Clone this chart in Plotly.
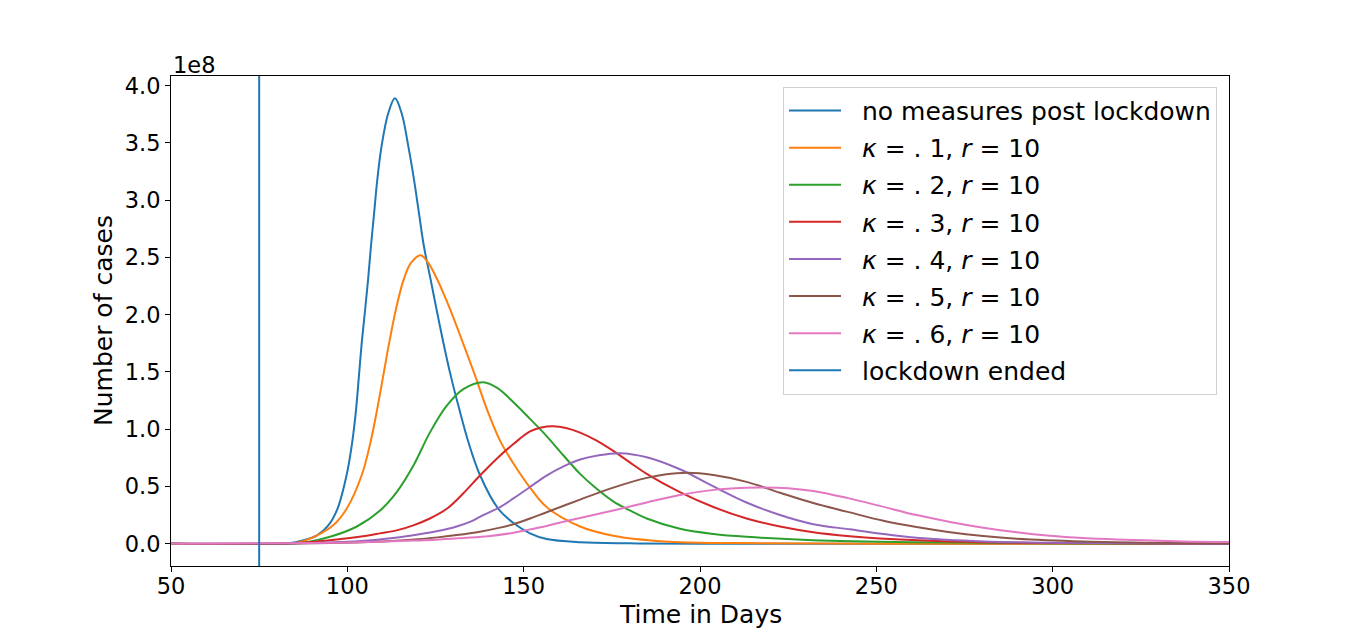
#!/usr/bin/env python3

import plotly.graph_objects as go


# ----------------------------------------
# Data (cases in units of 1e8)
# ----------------------------------------

lockdown_day = 75

no_measures_days = [50, 80, 85, 87.5, 91.3, 94.6, 97.2, 99.8, 101.4, 102.5, 103.3, 104.1,
                    105.0, 105.9, 106.7, 107.6, 108.5, 109.7, 111.6, 113.5, 115.4, 117.3,
                    118.9, 120.3, 121.7, 123.6, 125.4, 127.2, 129.3, 131.7, 134.3, 137.6,
                    142.8, 147.1, 151.8, 156.5, 166, 180, 200, 250, 350]
no_measures_cases = [0, 0, 0.01, 0.03, 0.07, 0.16, 0.305, 0.60, 0.89, 1.18, 1.47, 1.76,
                     2.03, 2.31, 2.60, 2.89, 3.18, 3.47, 3.76, 3.89, 3.76, 3.47,
                     3.18, 2.89, 2.60, 2.31, 2.03, 1.76, 1.47, 1.18, 0.89, 0.60,
                     0.305, 0.18, 0.09, 0.04, 0.012, 0.003, 0, 0, 0]

k1_days = [50, 80, 86, 91.3, 96.0, 99.8, 104.1, 106.6, 108.5, 110.2, 111.9, 113.8, 115.9,
           118.0, 120.8, 123.0, 125.3, 127.2, 129.1, 132.7, 136.2, 139.5, 143.3, 147.1,
           151.8, 156.5, 166, 175.4, 190, 210, 250, 350]
k1_cases = [0, 0, 0.01, 0.07, 0.16, 0.305, 0.60, 0.89, 1.18, 1.47, 1.76, 2.05, 2.30,
            2.45, 2.52, 2.45, 2.32, 2.19, 2.05, 1.76, 1.47, 1.18, 0.90, 0.70,
            0.49, 0.32, 0.15, 0.07, 0.02, 0.005, 0, 0]

k2_days = [50, 82, 88, 95.1, 102.7, 109.3, 114.0, 118.7, 123.4, 128.2, 132.9, 138.6, 142.5,
           147.1, 151.8, 156.5, 161.3, 166.0, 170.7, 175.4, 180.1, 184.9, 194.3, 203.8,
           213.2, 232, 260, 300, 350]
k2_cases = [0, 0, 0.01, 0.06, 0.15, 0.29, 0.45, 0.68, 0.97, 1.205, 1.35, 1.41, 1.36,
            1.235, 1.09, 0.94, 0.77, 0.61, 0.48, 0.37, 0.29, 0.22, 0.13, 0.085,
            0.06, 0.03, 0.012, 0.003, 0]

k3_days = [50, 85, 95, 105.5, 109.3, 114.0, 118.7, 123.4, 128.2, 132.9, 137.6, 142.3, 147.1,
           151.8, 155, 158.4, 162, 166.0, 170.7, 175.4, 180.1, 184.9, 194.3, 203.8, 213.2,
           222.7, 232.1, 242.5, 251, 270.9, 300, 350]
k3_cases = [0, 0.005, 0.03, 0.07, 0.09, 0.116, 0.16, 0.22, 0.305, 0.44, 0.595, 0.74, 0.87,
            0.98, 1.015, 1.025, 1.01, 0.97, 0.90, 0.81, 0.71, 0.61, 0.45, 0.32, 0.22,
            0.15, 0.10, 0.065, 0.045, 0.02, 0.005, 0]

k4_days = [50, 90, 105, 117.8, 125.6, 131.0, 135.1, 137.6, 143.3, 147.1, 151.8, 156.5, 161.3,
           166.0, 171, 177.3, 184.9, 194.3, 203.8, 213.2, 222.7, 232.1, 242.5, 252, 261.4,
           280.3, 300, 350]
k4_cases = [0, 0.005, 0.025, 0.07, 0.11, 0.15, 0.195, 0.235, 0.32, 0.395, 0.495, 0.595, 0.675,
            0.735, 0.77, 0.79, 0.755, 0.65, 0.50, 0.36, 0.25, 0.17, 0.125, 0.085, 0.052,
            0.02, 0.008, 0]

k5_days = [50, 95, 110, 118, 125.6, 131, 137.6, 143.3, 147.1, 151.8, 156.5, 166.0, 175.4,
           184.9, 190, 196.4, 203.8, 213.2, 222.7, 232.1, 241.6, 252, 261.4, 270.9, 280.3,
           289.8, 308.7, 330, 350]
k5_cases = [0, 0.005, 0.02, 0.035, 0.055, 0.075, 0.105, 0.14, 0.17, 0.22, 0.275, 0.385, 0.49,
            0.575, 0.605, 0.62, 0.60, 0.54, 0.445, 0.355, 0.28, 0.20, 0.145, 0.10, 0.067,
            0.044, 0.02, 0.008, 0.003]

k6_days = [50, 100, 116, 125, 133, 140, 147.1, 151.8, 156.5, 161, 166, 175.4, 184.9, 194.3,
           203.8, 210, 217, 225, 232.1, 241.6, 251, 261.4, 270.9, 280.3, 289.8, 299.2, 308.7,
           318.1, 337, 350]
k6_cases = [0, 0.01, 0.025, 0.035, 0.05, 0.065, 0.095, 0.125, 0.155, 0.19, 0.225, 0.29, 0.36,
            0.425, 0.47, 0.485, 0.49, 0.485, 0.46, 0.40, 0.33, 0.25, 0.19, 0.14, 0.10, 0.07,
            0.05, 0.037, 0.02, 0.015]

series_names = [
    "no measures post lockdown",
    "<i>κ</i> = . 1, <i>r</i> = 10",
    "<i>κ</i> = . 2, <i>r</i> = 10",
    "<i>κ</i> = . 3, <i>r</i> = 10",
    "<i>κ</i> = . 4, <i>r</i> = 10",
    "<i>κ</i> = . 5, <i>r</i> = 10",
    "<i>κ</i> = . 6, <i>r</i> = 10",
]
series_days = [no_measures_days, k1_days, k2_days, k3_days, k4_days, k5_days, k6_days]
series_cases = [no_measures_cases, k1_cases, k2_cases, k3_cases, k4_cases, k5_cases, k6_cases]

colors = ["#1f77b4", "#ff7f0e", "#2ca02c", "#d62728", "#9467bd", "#8c564b", "#e377c2"]

x_ticks = [50, 100, 150, 200, 250, 300, 350]
y_ticks = [0, 0.5, 1.0, 1.5, 2.0, 2.5, 3.0, 3.5, 4.0]
y_range = [-0.195, 4.085]


# ----------------------------------------
# Figure
# ----------------------------------------

FONT = "DejaVu Sans"
TICK_FS = 22.5
LABEL_FS = 25
PAD = "\u00a0\u00a0"  # a bit more room between legend line and text

fig = go.Figure()

for i, (name, days, cases) in enumerate(zip(series_names, series_days, series_cases)):
    fig.add_trace(
        go.Scatter(
            x=days,
            y=cases,
            mode="lines",
            name=PAD + name,
            legendgroup=f"g{i}",
            line=dict(color=colors[i], width=2, shape="spline", smoothing=1.0),
        )
    )

fig.add_trace(
    go.Scatter(
        x=[lockdown_day, lockdown_day],
        y=y_range,
        mode="lines",
        name=PAD + "lockdown ended",
        legendgroup="g_lock",
        line=dict(color="#1f77b4", width=2),
    )
)

axis_common = dict(
    showline=True,
    linecolor="black",
    linewidth=1,
    mirror=True,
    ticks="outside",
    ticklen=5,
    tickwidth=1,
    tickcolor="black",
    showgrid=False,
    zeroline=False,
    automargin=False,
    tickfont=dict(family=FONT, size=TICK_FS, color="black"),
)

fig.update_layout(
    width=1350,
    height=621,
    margin=dict(l=163, r=129, t=68, b=63),
    plot_bgcolor="white",
    paper_bgcolor="white",
    font=dict(family=FONT, size=TICK_FS, color="black"),
    xaxis=dict(axis_common, range=[50, 350], tickvals=x_ticks, ticklabelstandoff=-5),
    yaxis=dict(axis_common, range=y_range, tickvals=y_ticks, tickformat=".1f"),
    legend=dict(
        x=0.9887,
        y=0.978,
        xanchor="right",
        yanchor="top",
        traceorder="grouped",
        tracegroupgap=1.6,
        itemwidth=52,
        bgcolor="rgba(255,255,255,0.8)",
        bordercolor="#d0d0d0",
        borderwidth=1,
        font=dict(family=FONT, size=LABEL_FS, color="black"),
    ),
    showlegend=True,
)

# axis titles and the matplotlib-style offset text
fig.add_annotation(
    text="Time in Days",
    xref="paper", yref="paper", x=0.5, y=0,
    xanchor="center", yanchor="middle", yshift=-48.5, borderpad=0,
    showarrow=False,
    font=dict(family=FONT, size=LABEL_FS, color="black"),
)
fig.add_annotation(
    text="Number of cases",
    xref="paper", yref="paper", x=0, y=0.5,
    xanchor="center", yanchor="middle", xshift=-68, textangle=-90,
    showarrow=False,
    font=dict(family=FONT, size=LABEL_FS, color="black"),
)
fig.add_annotation(
    text="1e8",
    xref="paper", yref="paper", x=0, y=1,
    xanchor="left", yanchor="bottom", yshift=-4,
    showarrow=False,
    font=dict(family=FONT, size=TICK_FS, color="black"),
)

fig.write_html("out.html")
